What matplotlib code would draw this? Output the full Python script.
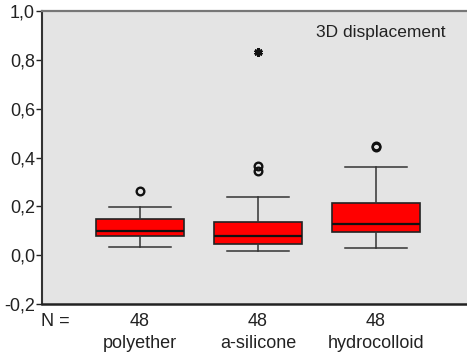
import matplotlib
matplotlib.use('Agg')
import matplotlib.pyplot as plt

plt.rcParams['font.family'] = ['Liberation Sans', 'DejaVu Sans']

groups = ['polyether', 'a-silicone', 'hydrocolloid']
counts = [48, 48, 48]
q1 = [0.080, 0.047, 0.096]
medians = [0.100, 0.080, 0.128]
q3 = [0.148, 0.137, 0.214]
whisk_lo = [0.033, 0.018, 0.029]
whisk_hi = [0.199, 0.238, 0.362]
outliers = [[0.264], [0.345, 0.365], [0.444, 0.448]]
extremes = [[], [0.832], []]

stats = []
for i, name in enumerate(groups):
    stats.append({'label': name, 'q1': q1[i], 'med': medians[i], 'q3': q3[i],
                  'whislo': whisk_lo[i], 'whishi': whisk_hi[i], 'fliers': outliers[i]})

fig = plt.figure(figsize=(4.67, 3.57), dpi=100)
ax = fig.add_axes([0.090, 0.1485, 0.91, 0.8205])
ax.set_facecolor('#e4e4e4')

pos = [1, 2, 3]
ax.bxp(stats, positions=pos, widths=0.74, patch_artist=True, showfliers=True,
       boxprops=dict(facecolor='#ff0000', edgecolor='#222222', linewidth=1.2),
       medianprops=dict(color='#111111', linewidth=1.6),
       whiskerprops=dict(color='#333333', linewidth=1.1),
       capprops=dict(color='#333333', linewidth=1.1),
       capwidths=0.52,
       flierprops=dict(marker='o', markerfacecolor='none', markeredgecolor='#111111',
                       markersize=5.5, markeredgewidth=1.7))
for p, ex in zip(pos, extremes):
    if ex:
        ax.plot([p] * len(ex), ex, linestyle='none', marker=(6, 2, 0), color='#111111',
                markersize=6, markeredgewidth=2)

ax.set_xlim(0.17, 3.77)
ax.set_ylim(-0.2, 1.0)
ax.set_yticks([-0.2, 0.0, 0.2, 0.4, 0.6, 0.8, 1.0])
ax.set_yticklabels(['-0,2', '0,0', '0,2', '0,4', '0,6', '0,8', '1,0'])
ax.tick_params(axis='y', labelsize=13, length=4, width=1, colors='#222222', pad=1)
ax.set_xticks([])

ax.spines['right'].set_visible(False)
ax.spines['left'].set_color('#333333')
ax.spines['left'].set_linewidth(1.5)
ax.spines['bottom'].set_color('#222222')
ax.spines['bottom'].set_linewidth(1.8)
ax.spines['top'].set_color('#777777')
ax.spines['top'].set_linewidth(1.6)

ax.text(381 / 467, 1 - 32 / 357, '3D displacement', transform=fig.transFigure,
        ha='center', va='center', fontsize=12.5, color='#222222')

fig.text(55 / 467, 1 - 321 / 357, 'N =', ha='center', va='center', fontsize=13, color='#222222')
for p, n, name in zip(pos, counts, groups):
    xf = ax.transData.transform((p, 0))[0] / fig.bbox.width
    fig.text(xf, 1 - 321 / 357, str(n), ha='center', va='center', fontsize=13, color='#222222')
    fig.text(xf, 1 - 343 / 357, name, ha='center', va='center', fontsize=13, color='#222222')

fig.savefig('out.png', dpi=100)
